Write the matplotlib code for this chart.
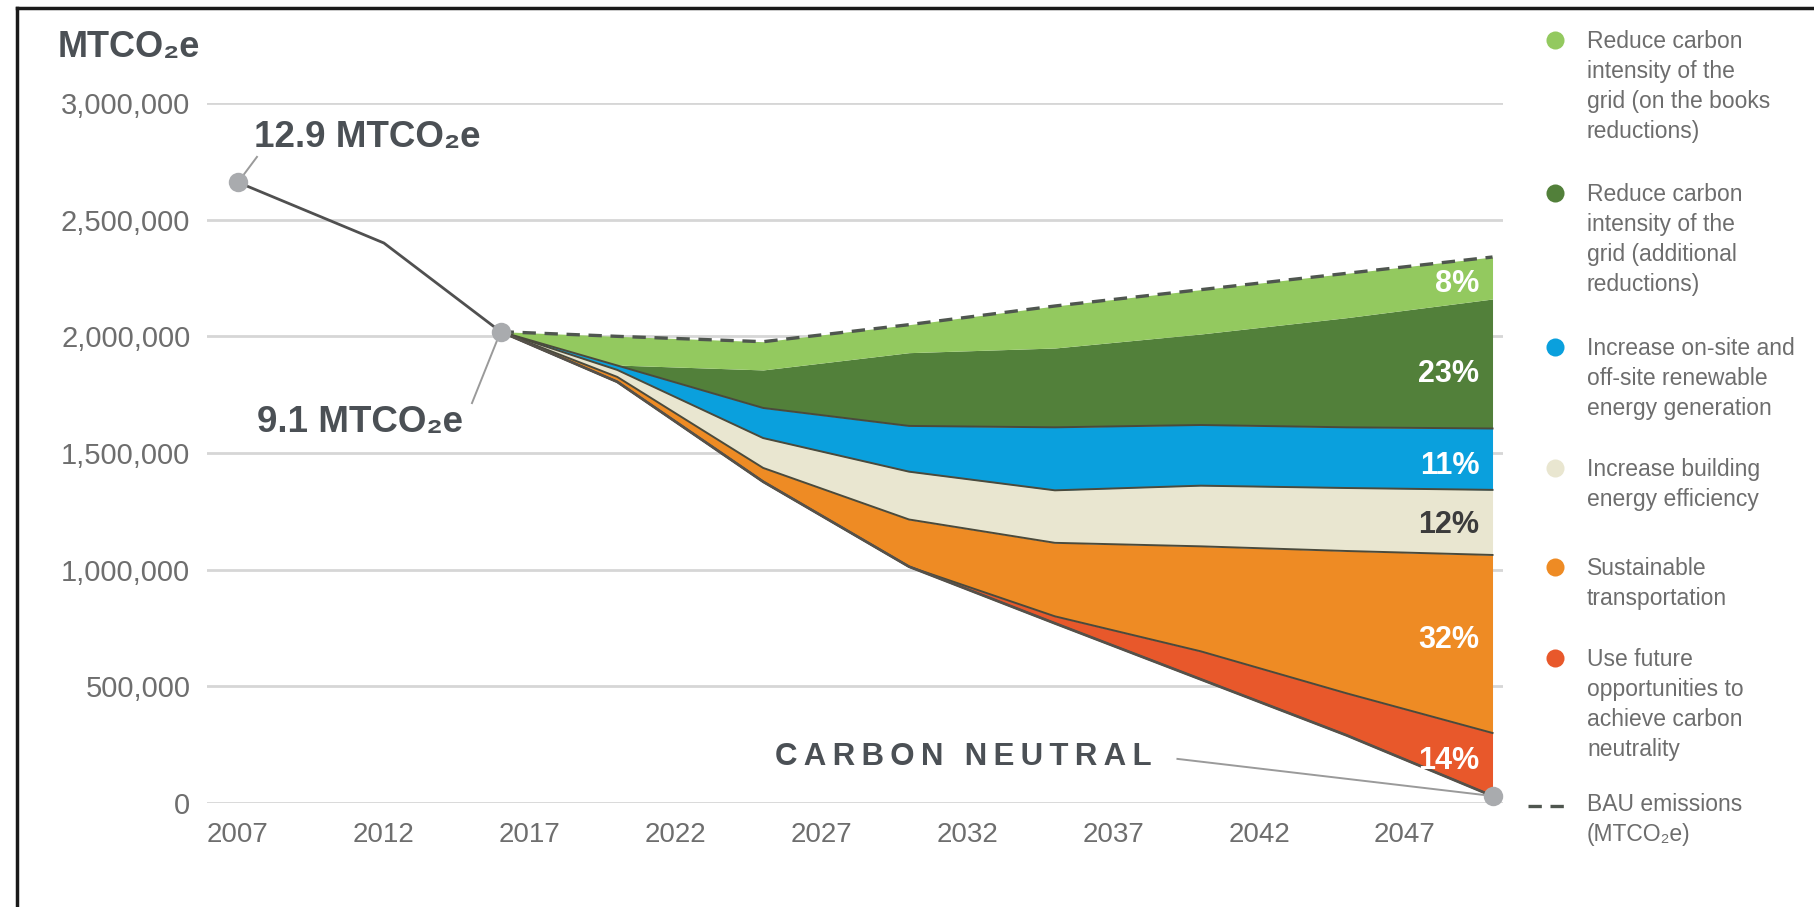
import numpy as np
import matplotlib.pyplot as plt
from matplotlib.lines import Line2D
from matplotlib.ticker import FuncFormatter

plt.rcParams['font.family'] = ['Liberation Sans', 'DejaVu Sans']

W, H = 1815, 907

# historical emissions (MTCO2e)
hist_years = [2007, 2012, 2016]
hist_emis = [2660000, 2400000, 2020000]

# projection years, BAU and what remains after all reductions
proj_years = [2016, 2020, 2025, 2030, 2035, 2040, 2045, 2050]
bau = [2020000, 2000000, 1977000, 2050000, 2130000, 2200000, 2270000, 2340000]
remaining = [2020000, 1805000, 1377000, 1013000, 770000, 530000, 290000, 30000]

# reduction wedges, stacked from the bottom up
future_opp = [0, 0, 0, 0, 30000, 120000, 180000, 270000]
transport = [0, 21000, 59000, 202000, 315000, 450000, 610000, 763000]
efficiency = [0, 30000, 128000, 205000, 225000, 260000, 270000, 279000]
renewable = [0, 19000, 129000, 196000, 270000, 260000, 260000, 263000]
grid_additional = [0, 2000, 163000, 314000, 340000, 390000, 470000, 555000]
grid_books = [0, 123000, 121000, 120000, 180000, 190000, 190000, 180000]

wedges = [future_opp, transport, efficiency, renewable, grid_additional, grid_books]
colors = ['#e8582b', '#ee8b24', '#e9e6d0', '#0aa0dd', '#52803a', '#93c95f']
pct_labels = ['14%', '32%', '12%', '11%', '23%', '8%']
pct_colors = ['white', 'white', '#3c3c3c', 'white', 'white', 'white']

legend_labels = [
    'Reduce carbon\nintensity of the\ngrid (on the books\nreductions)',
    'Reduce carbon\nintensity of the\ngrid (additional\nreductions)',
    'Increase on-site and\noff-site renewable\nenergy generation',
    'Increase building\nenergy efficiency',
    'Sustainable\ntransportation',
    'Use future\nopportunities to\nachieve carbon\nneutrality',
]
legend_colors = ['#93c95f', '#52803a', '#0aa0dd', '#e9e6d0', '#ee8b24', '#e8582b']

xticks = [2007, 2012, 2017, 2022, 2027, 2032, 2037, 2042, 2047]
yticks = [0, 500000, 1000000, 1500000, 2000000, 2500000, 3000000]

dark = '#4b5055'
outline = '#4a4a3c'
dotc = '#a9abae'

fig = plt.figure(figsize=(W / 100, H / 100), dpi=100)
ax = fig.add_axes([207 / W, 1 - 803 / H, (1503 - 207) / W, (803 - 103) / H])

px_per_year = (1405 - 238) / 40.0
ax.set_xlim(2007 - (238 - 207) / px_per_year, 2007 + (1503 - 238) / px_per_year)
ax.set_ylim(0, 3000000)

# stacked wedges
x = np.array(proj_years)
levels = [np.array(remaining, dtype=float)]
for w in wedges:
    levels.append(levels[-1] + np.array(w))

for i, c in enumerate(colors):
    ax.fill_between(x, levels[i], levels[i + 1], color=c, lw=0, zorder=2)

# boundary lines between wedges
for i in range(0, 5):
    ax.plot(x, levels[i], color=outline, lw=1.4, zorder=3)
ax.plot(x, levels[0], color='#55514a', lw=2.0, zorder=3)

# BAU dashed
ax.plot(proj_years, bau, color='#4f564f', lw=2.4, ls=(0, (4, 2.6)), zorder=4)

# history
ax.plot(hist_years, hist_emis, color='#505050', lw=2.0, zorder=4)

# percentage labels at the right edge
pct_y = [180000, 700000, 1193000, 1444000, 1838000, 2225000]
for i, lab in enumerate(pct_labels):
    ax.text(2049.55, pct_y[i], lab, ha='right', va='center', fontsize=22,
            fontweight='bold', color=pct_colors[i], zorder=6)

# annotations
ax.plot([2007, 2007.65], [2660000, 2769000], color='#9a9a9a', lw=1.4, zorder=4,
        clip_on=False)
ax.plot([2016, 2015.02], [2020000, 1714000], color='#9a9a9a', lw=1.4, zorder=4,
        clip_on=False)
ax.plot([2039.2, 2050], [189000, 30000], color='#9a9a9a', lw=1.4, zorder=4,
        clip_on=False)
ax.plot([2007, 2016, 2050], [2660000, 2020000, 30000], 'o', color=dotc,
        markersize=14, mec='none', zorder=7, clip_on=False)

ax.text(2007.55, 2811000, '12.9 MTCO\u2082e', fontsize=26.5, fontweight='bold',
        color=dark, va='baseline', ha='left')
ax.text(2007.65, 1590000, '9.1 MTCO\u2082e', fontsize=26.5, fontweight='bold',
        color=dark, va='baseline', ha='left')
ax.text(2025.4, 197000, '\u2009'.join('CARBON NEUTRAL'), fontsize=22.5,
        fontweight='bold', color=dark, va='center', ha='left')

# axes styling
for s in ax.spines.values():
    s.set_visible(False)
ax.set_xticks(xticks)
ax.set_yticks(yticks)
ax.yaxis.set_major_formatter(FuncFormatter(lambda v, p: '{:,}'.format(int(v))))
ax.tick_params(axis='both', length=0, labelsize=20, labelcolor='#6e6e6e')
ax.tick_params(axis='y', pad=12, labelsize=21)
ax.tick_params(axis='x', pad=14)
ax.yaxis.grid(True, color='#d6d6d6', lw=2)
ax.set_axisbelow(True)

fig.text(58 / W, 1 - 57 / H, 'MTCO\u2082e', fontsize=26, fontweight='bold',
         color=dark, va='baseline', ha='left')

# legend, drawn by hand
leg_y = [40, 193, 347, 468, 567, 658]
for yc, lab, c in zip(leg_y, legend_labels, legend_colors):
    fig.add_artist(Line2D([1555 / W], [1 - yc / H], marker='o', color=c,
                          markersize=13, mec='none', ls='none'))
    fig.text(1587 / W, 1 - (yc - 10) / H, lab, fontsize=16.5, color='#6d6d6d',
             va='top', ha='left', linespacing=1.38)
fig.add_artist(Line2D([1528 / W, 1567 / W], [1 - 806 / H, 1 - 806 / H],
                      color='#4f564f', lw=2.4, ls=(0, (4, 2.6))))
fig.text(1587 / W, 1 - (803 - 10) / H, 'BAU emissions\n(MTCO\u2082e)', fontsize=16.5,
         color='#6d6d6d', va='top', ha='left', linespacing=1.38)

# frame of the source image (left and top edges)
fig.add_artist(Line2D([17 / W, 17 / W], [0, 1 - 8 / H], color='#1a1a1a', lw=2.5))
fig.add_artist(Line2D([17 / W, 1], [1 - 8 / H, 1 - 8 / H], color='#1a1a1a', lw=2.5))

fig.savefig('out.png', dpi=100)
